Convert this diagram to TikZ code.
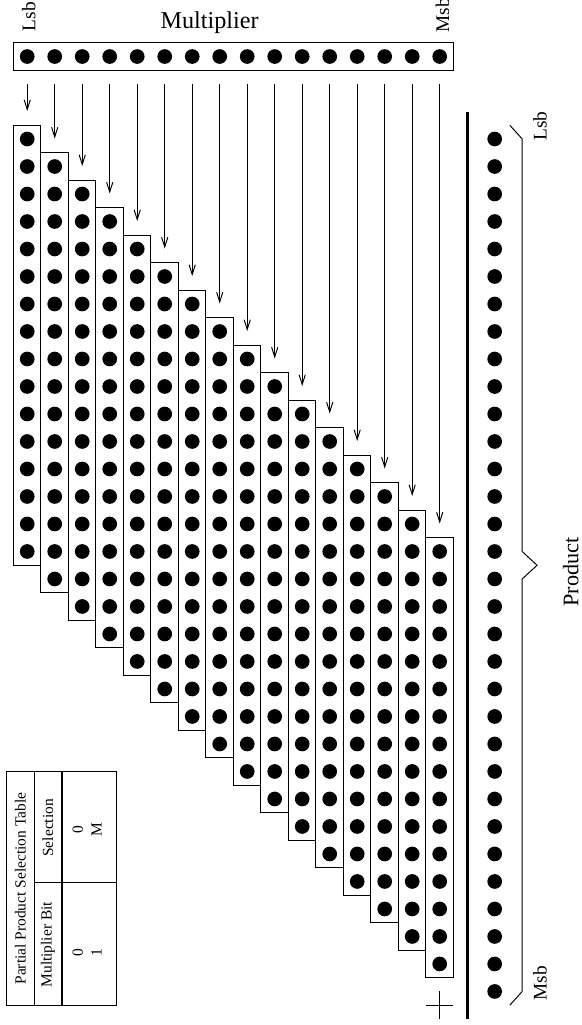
\documentclass[tikz,border=0pt]{standalone}
\usepackage{fontspec}
\setmainfont{Liberation Serif}
\usetikzlibrary{arrows.meta}

\begin{document}
\begin{tikzpicture}[x=0.5cm, y=-0.5cm, >={Straight Barb[length=5pt,width=3.2pt]}, line width=0.5pt]
    \useasboundingbox (-0.99,-5.055) rectangle (20.17,32.22);

    % Multiplicateur
    \node[draw, minimum width=8cm, minimum height=0.5cm, inner sep=0pt] (mult) at (7.5,-3) {};
    \foreach \i in {0,...,15}
        \fill (\i,-3) circle (3.8pt);
    \node[font=\fontsize{12.5}{14}\selectfont] (multlabel) at (6.63,-4.22) {Multiplier};
    \node[rotate=90, font=\fontsize{10}{12}\selectfont] (mlsb) at (0.06,-4.45) {Lsb};
    \node[rotate=90, font=\fontsize{10}{12}\selectfont] (mmsb) at (15.1,-4.5) {Msb};

    % Produits partiels
    \foreach \i in {0,...,15} {
        \node[draw, minimum width=0.5cm, minimum height=8cm, inner sep=0pt] (pp\i) at (\i,\i+7.5) {};
        \foreach \k in {0,...,15}
            \fill (\i,\i+\k) circle (3.8pt);
        \coordinate (a\i) at (\i,-2);
        \draw[->] (a\i) -- ([yshift=0.25cm]pp\i.north);
    }

    % Somme
    \draw (15,31) -- (15,32);
    \draw (14.5,31.5) -- (15.5,31.5);

    % Produit
    \coordinate (ptop) at (16,-1);
    \coordinate (pbot) at (16,32);
    \draw[line width=1.5pt] (ptop) -- (pbot);
    \foreach \k in {0,...,31}
        \fill (17,\k) circle (3.8pt);
    \draw (17.55,-0.5) -- (18,0) -- (18,15) -- (18.54,15.5) -- (18,16) -- (18,31) -- (17.55,31.5);
    \node[rotate=90, font=\fontsize{10}{12}\selectfont] (plsb) at (18.65,-0.47) {Lsb};
    \node[rotate=90, font=\fontsize{10}{12}\selectfont] (pmsb) at (18.65,30.7) {Msb};
    \node[rotate=90, font=\fontsize{11.5}{13}\selectfont] (prod) at (19.77,15.75) {Product};

    % Table de selection
    \draw (-0.75,23) rectangle (3.25,31.5);
    \draw (0.25,23) -- (0.25,31.5);
    \draw[line width=1.1pt] (1.25,23) -- (1.25,31.5);
    \draw (0.25,27.04) -- (3.25,27.04);
    \node[rotate=90, font=\fontsize{8}{9.5}\selectfont] (ttitle) at (-0.25,27.26) {Partial Product Selection Table};
    \node[rotate=90, font=\fontsize{8}{9.5}\selectfont] (tsel) at (0.75,25.05) {Selection};
    \node[rotate=90, font=\fontsize{8}{9.5}\selectfont] (tbit) at (0.75,29.3) {Multiplier Bit};
    \node[rotate=90, font=\fontsize{8}{9.5}\selectfont] (tsel0) at (1.84,25.1) {0};
    \node[rotate=90, font=\fontsize{8}{9.5}\selectfont] (tselM) at (2.52,25.1) {M};
    \node[rotate=90, font=\fontsize{8}{9.5}\selectfont] (tbit0) at (1.84,29.6) {0};
    \node[rotate=90, font=\fontsize{8}{9.5}\selectfont] (tbit1) at (2.52,29.6) {1};

\end{tikzpicture}
\end{document}
